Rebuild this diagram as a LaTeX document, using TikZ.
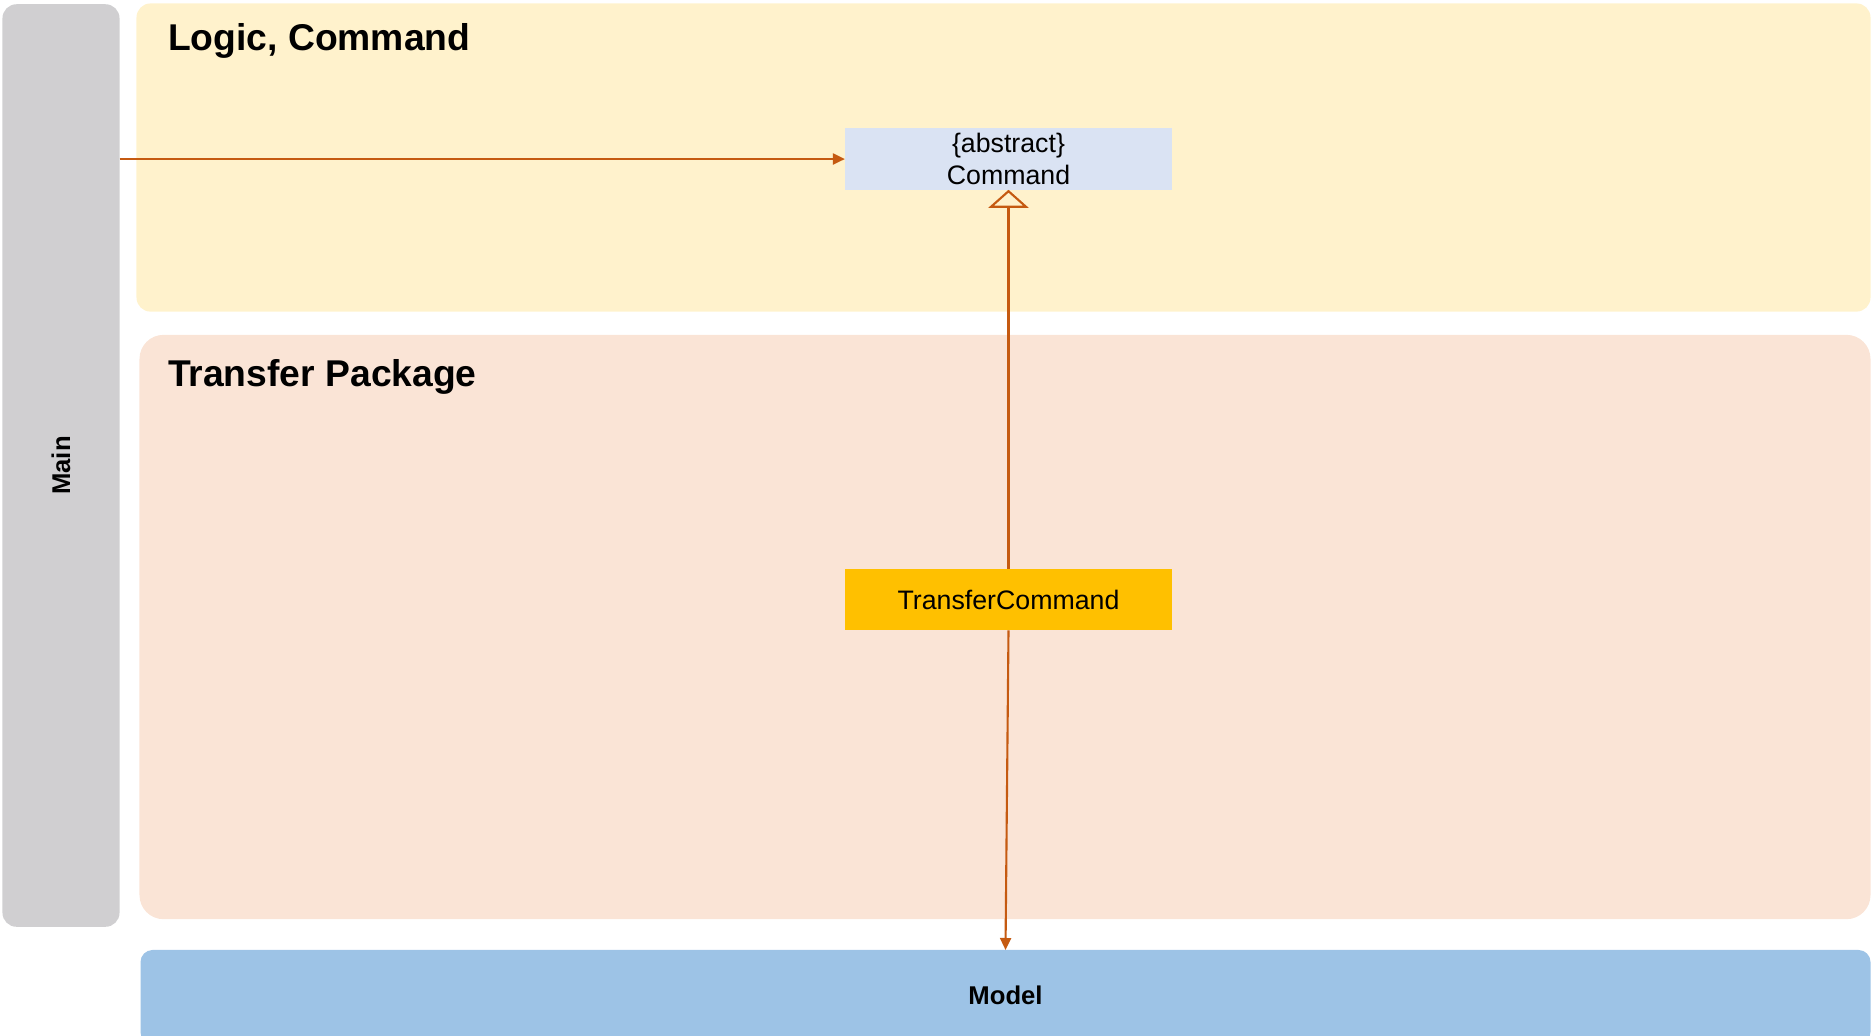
\documentclass[tikz,border=0pt]{standalone}
\usepackage{fontspec}
\setmainfont{Liberation Sans}
\usetikzlibrary{arrows.meta}
\definecolor{maingray}{HTML}{D0CFD1}
\definecolor{logicbg}{HTML}{FFF2CC}
\definecolor{transferbg}{HTML}{FAE4D6}
\definecolor{modelbg}{HTML}{9DC3E6}
\definecolor{abstractbg}{HTML}{DAE3F3}
\definecolor{concretebg}{HTML}{FFC000}
\definecolor{assoc}{HTML}{C55A11}
\newcommand{\layer}[6]{%
 \node[layer, fill={#5}, rounded corners={#6}, minimum width={#3}, minimum height={#4}] ({#1}) at ({#2}) {};%
}
\newcommand{\classbox}[4]{%
 \node[cls, fill={#4}] ({#1}) at ({#2}) {#3};%
}

\begin{document}
\begin{tikzpicture}[x=0.01cm, y=-0.01cm,
  every node/.style={inner sep=0pt, outer sep=0pt},
  layer/.style={draw=none},
  cls/.style={minimum width=3.27cm, minimum height=0.615cm, align=center,
    font=\fontsize{7.6}{9.1}\selectfont},
  title/.style={anchor=base west, font=\fontsize{10.6}{12}\selectfont\bfseries},
  tag/.style={font=\fontsize{7.3}{9}\selectfont\bfseries},
  link/.style={draw=assoc, line width=0.6pt, -{Triangle[length=0.12cm, width=0.11cm]}},
  extends/.style={draw=assoc, line width=0.6pt, -{Triangle[open, length=0.18cm, width=0.4cm]}}]
  \useasboundingbox (0,0) rectangle (1872,1035);
  \layer{main}{61,465.5}{1.17cm}{9.22cm}{maingray}{0.14cm};
  \layer{logic}{1003.5,157.5}{17.33cm}{3.08cm}{logicbg}{0.14cm};
  \layer{transfer}{1005,627}{17.30cm}{5.84cm}{transferbg}{0.24cm};
  \layer{model}{1005.5,997}{17.29cm}{0.94cm}{modelbg}{0.12cm};
  \node[title] (logictitle) at (168,50) {Logic, Command};
  \node[title] (transfertitle) at (168,386) {Transfer Package};
  \node[tag, rotate=90] (maintag) at (main) {Main};
  \node[tag] (modeltag) at (1005.5,995) {Model};
  \classbox{cmd}{1008.5,159}{\{abstract\}\\Command}{abstractbg};
  \classbox{tc}{1008.5,599.5}{TransferCommand}{concretebg};
  \draw[link] (main.east |- cmd.west) -- (cmd.west);
  \draw[extends] (tc.north) -- (cmd.south);
  \draw[link] (tc.south) -- (model.north);
\end{tikzpicture}
\end{document}
